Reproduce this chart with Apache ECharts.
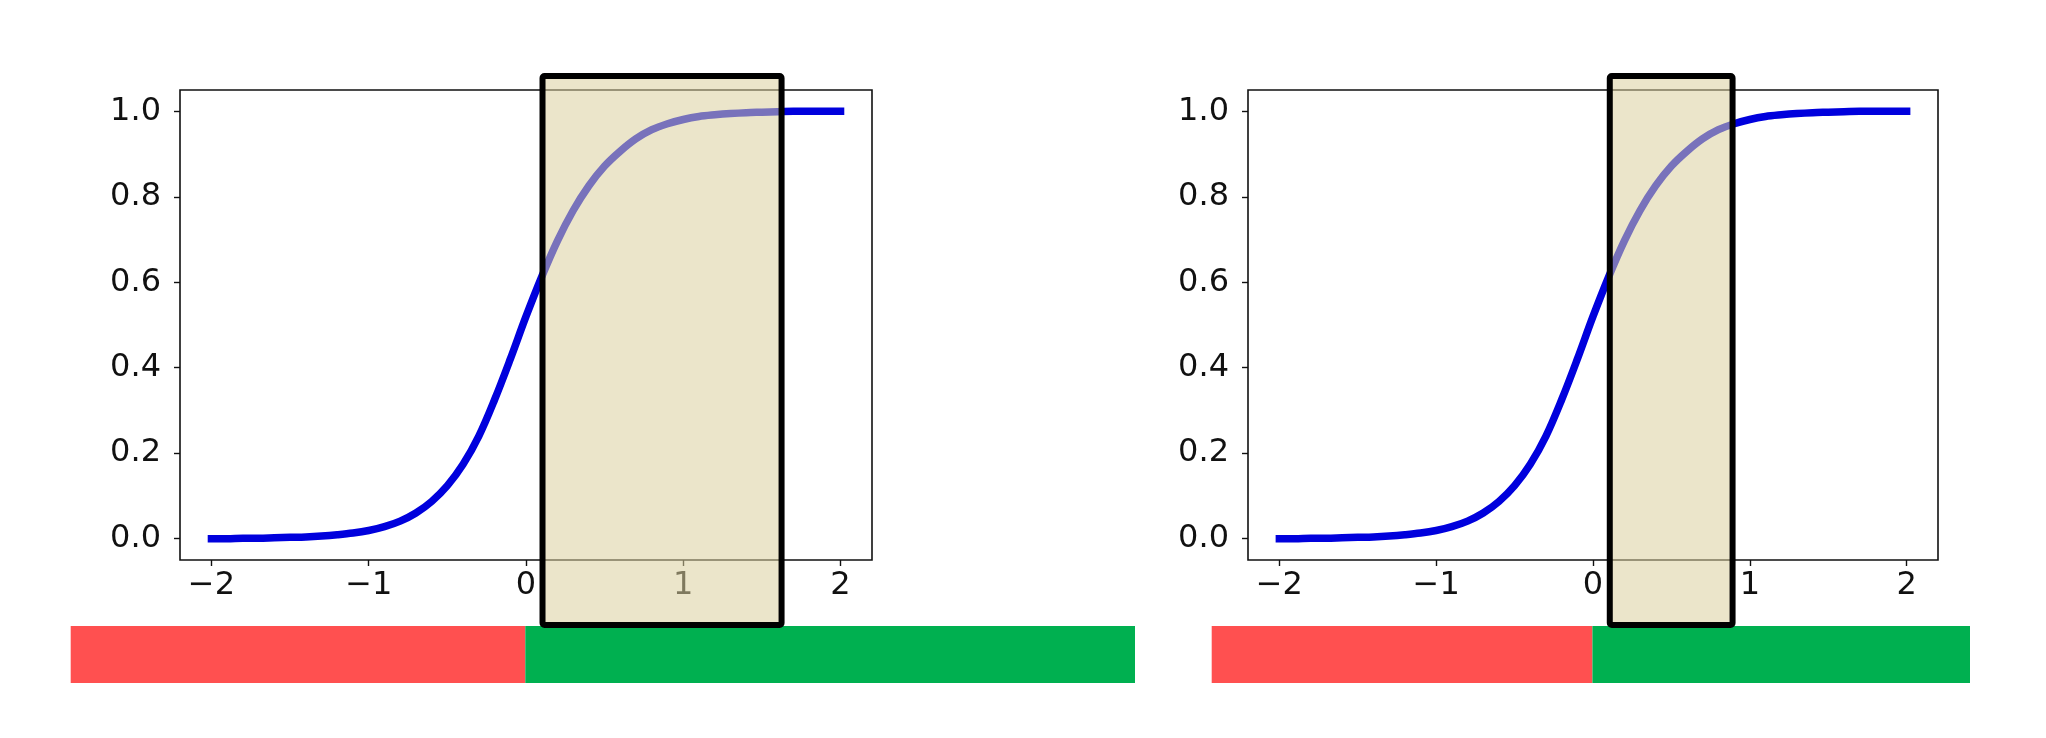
<!DOCTYPE html>
<html>
<head>
<meta charset="utf-8">
<script src="https://cdn.jsdelivr.net/npm/echarts@6/dist/echarts.min.js"></script>
<style>
html,body{margin:0;padding:0;background:#fff;}
#chart{width:2046px;height:738px;}
</style>
</head>
<body>
<div id="chart"></div>
<script>
// ---- data ----
const xs = [-2.0,-1.9,-1.8,-1.7,-1.6,-1.5,-1.4,-1.3,-1.2,-1.1,-1.0,-0.9,-0.8,-0.7,-0.6,-0.5,-0.4,-0.3,-0.2,-0.1,
            0.0,0.1,0.2,0.3,0.4,0.5,0.6,0.7,0.8,0.9,1.0,1.1,1.2,1.3,1.4,1.5,1.6,1.7,1.8,1.9,2.0];
const ys = [0.000,0.000,0.001,0.001,0.002,0.003,0.004,0.006,0.009,0.013,0.019,0.028,0.041,0.060,0.087,0.124,0.174,0.240,0.325,0.420,
            0.520,0.613,0.697,0.768,0.826,0.872,0.907,0.936,0.957,0.971,0.981,0.988,0.992,0.995,0.997,0.998,0.999,1.000,1.000,1.000,1.000];
const xTicks = [-2,-1,0,1,2];
const yTicks = [0,0.2,0.4,0.6,0.8,1.0];
// highlighted windows [from, to] on the x scale of each panel
const windowLeft = [0.105, 1.625];
const windowRight = [0.107, 0.890];
// strips under each panel: negative (red) and positive (green) extents on the panel x scale
const stripLeftRed = -2.89, stripLeftGreen = 3.876;
const stripRightRed = -2.42, stripRightGreen = 2.40;

const curve = xs.map((x,i)=>[x, ys[i]]);
const FONT = 'DejaVu Sans';
const minus = v => String(v).replace('-', '\u2212');

const panels = [
  {left:180, width:692, win:windowLeft, strip:[stripLeftRed, stripLeftGreen], stripLeft:70.7, stripWidth:1064.3},
  {left:1248, width:690, win:windowRight, strip:[stripRightRed, stripRightGreen], stripLeft:1211.7, stripWidth:758.3}
];

const grid = [], xAxis = [], yAxis = [], series = [];
panels.forEach((p, k) => {
  // main plot grid
  const g = grid.length;
  grid.push({left:p.left, top:90, width:p.width, height:470, show:true, borderColor:'#111', borderWidth:1.6, backgroundColor:'transparent', z:0});
  xAxis.push({type:'value', gridIndex:g, min:-2.2, max:2.2, z:0,
    splitLine:{show:false}, axisLine:{show:false, onZero:false},
    axisTick:{show:true, customValues:xTicks, length:6, lineStyle:{color:'#111', width:1.4}},
    axisLabel:{customValues:xTicks, formatter:v=>minus(v), fontFamily:FONT, fontSize:32, color:'#111', margin:10}});
  yAxis.push({type:'value', gridIndex:g, min:-0.05, max:1.05, z:0,
    splitLine:{show:false}, axisLine:{show:false, onZero:false},
    axisTick:{show:true, customValues:yTicks, length:6, lineStyle:{color:'#111', width:1.4}},
    axisLabel:{customValues:yTicks, formatter:v=>v.toFixed(1), fontFamily:FONT, fontSize:32, color:'#111', margin:19}});
  series.push({type:'line', xAxisIndex:g, yAxisIndex:g, data:curve, smooth:0.35, showSymbol:false, symbol:'none',
    lineStyle:{color:'#0000dd', width:7.5, cap:'square'}, z:2, animation:false});

  // strip grid
  const s = grid.length;
  grid.push({left:p.stripLeft, top:626, width:p.stripWidth, height:57});
  xAxis.push({type:'value', gridIndex:s, min:p.strip[0], max:p.strip[1], show:false});
  yAxis.push({type:'category', gridIndex:s, data:['strip'], show:false});
  series.push({type:'bar', xAxisIndex:s, yAxisIndex:s, stack:'strip'+k, data:[p.strip[0]], barWidth:'100%',
    itemStyle:{color:'#ff5050'}, z:1, animation:false});
  series.push({type:'bar', xAxisIndex:s, yAxisIndex:s, stack:'strip'+k, data:[p.strip[1]], barWidth:'100%',
    itemStyle:{color:'#00b050'}, z:1, animation:false});

  // overlay grid for the highlighted window
  const o = grid.length;
  grid.push({left:p.left, top:76, width:p.width, height:549});
  xAxis.push({type:'value', gridIndex:o, min:-2.2, max:2.2, show:false});
  yAxis.push({type:'value', gridIndex:o, min:0, max:1, show:false});
  series.push({type:'custom', xAxisIndex:o, yAxisIndex:o, z:20, animation:false, clip:false,
    data:[[p.win[0], p.win[1]]],
    renderItem:(params, api) => {
      const a = api.coord([api.value(0), 1]);
      const b = api.coord([api.value(1), 0]);
      return {type:'rect', shape:{x:a[0], y:a[1], width:b[0]-a[0], height:b[1]-a[1], r:2},
        style:{fill:'rgba(218,208,158,0.55)', stroke:'#000', lineWidth:6, lineJoin:'round'}};
    }});
});

const chart = echarts.init(document.getElementById('chart'), null, {renderer:'canvas'});
chart.setOption({animation:false, backgroundColor:'#fff', grid, xAxis, yAxis, series});
</script>
</body>
</html>
